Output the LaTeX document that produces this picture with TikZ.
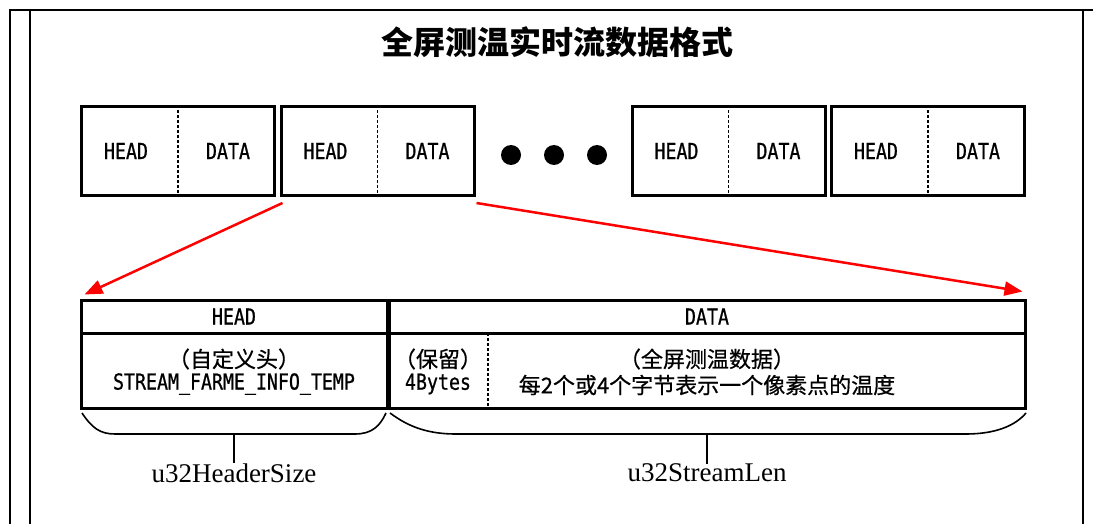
\documentclass[tikz,border=0pt]{standalone}
\usepackage{fontspec}
\setmainfont{Liberation Serif}
\newfontfamily\cjk[FakeBold=0.6]{Noto Sans CJK SC}
\newfontfamily\cjktitle{Noto Sans CJK SC}
\newfontfamily\mono[FakeStretch=0.83,FakeBold=0.8]{DejaVu Sans Mono}
\usetikzlibrary{arrows.meta}
\begin{document}
\begin{tikzpicture}[x=1pt,y=-1pt,
  frame/.style={line width=1.6pt},
  packet/.style={draw,line width=3pt,minimum width=193pt,minimum height=89pt,inner sep=0pt},
  divider/.style={line width=1.5pt,dash pattern=on 3pt off 2pt},
  lbl/.style={font=\mono\fontsize{22}{26}\selectfont,inner sep=0pt},
  cn/.style={font=\cjk\fontsize{22}{26}\selectfont,align=center,inner sep=0pt},
  monotxt/.style={font=\mono\fontsize{22}{26}\selectfont,inner sep=0pt},
  cell/.style={draw,line width=3pt,inner sep=0pt},
  link/.style={red,line width=2.5pt,-{Triangle[length=18pt,width=14pt]}},
  brace/.style={line width=1.6pt},
  sizelbl/.style={font=\fontsize{27}{30}\selectfont,inner sep=0pt},
  dot/.style={circle,fill=black,minimum size=20pt,inner sep=0pt},
]
\useasboundingbox (0,0) rectangle (1093,524);

% page frame
\draw[frame] (10,524) -- (10,10) -- (1093,10);
\draw[frame] (30,524) -- (30,10);
\draw[frame] (1083,10) -- (1083,524);

% title
\node[font=\cjktitle\bfseries\fontsize{32}{36}\selectfont] (title) at (557,42) {全屏测温实时流数据格式};

% stream of packets
\foreach \name/\cx in {p1/178,p2/377.5,p3/728.5,p4/928}{
  \node[packet] (\name) at (\cx,151) {};
  \draw[divider] (\name.north) -- (\name.south);
  \node[lbl] at ([xshift=-52pt]\name.center) {HEAD};
  \node[lbl] at ([xshift=50pt]\name.center) {DATA};
}
\node[dot] (d1) at (511,155) {};
\node[dot] (d2) at (554,155) {};
\node[dot] (d3) at (597,155) {};

% expanded packet layout
\node[cell,minimum width=306pt,minimum height=33pt] (headH) at (234,316.5) {};
\node[cell,minimum width=636pt,minimum height=33pt] (headD) at (707,316.5) {};
\node[cell,minimum width=306pt,minimum height=75pt] (bodyH) at (234,371) {};
\node[cell,minimum width=636pt,minimum height=75pt] (bodyD) at (707,371) {};
\node[lbl] at (headH.center) {HEAD};
\node[lbl] at (headD.center) {DATA};

\node[cn] (hdrtxt) at (234,359) {（自定义头）};
\node[monotxt] (hdrname) at (234,384) {STREAM\_FARME\_INFO\_TEMP};

\coordinate (resTop) at (488,333);
\coordinate (resBot) at (488,408);
\draw[divider] (resTop) -- (resBot);
\node[cn] (restxt) at (438,359) {（保留）};
\node[monotxt] (resbytes) at (438,384) {4Bytes};
\node[cn] (datatxt) at (707,359) {（全屏测温数据）};
\node[cn] (datadesc) at (707,385) {每2个或4个字节表示一个像素点的温度};

% expansion arrows
\draw[link] ([shift={(3,6)}]p2.south west) -- ([shift={(5,-4)}]headH.north west);
\draw[link] ([shift={(1,6)}]p2.south east) -- ([shift={(-4,-7)}]headD.north east);

% size braces
\coordinate (hb1) at (82,413);
\coordinate (hb2) at (386,413);
\draw[brace] (hb1) .. controls (92,428) and (100,434) .. (115,434) -- (355,434)
  .. controls (372,434) and (380,426) .. (hb2);
\node[sizelbl] (hsize) at (234,473) {u32HeaderSize};
\draw[brace] (234,434) -- (hsize.north);

\coordinate (db1) at (390,413);
\coordinate (db2) at (1026,413);
\draw[brace] (db1) .. controls (410,428) and (430,434) .. (456,434) -- (966,434)
  .. controls (995,434) and (1015,426) .. (db2);
\node[sizelbl] (dsize) at (707,473) {u32StreamLen};
\draw[brace] (707,434) -- (dsize.north);
\end{tikzpicture}
\end{document}
